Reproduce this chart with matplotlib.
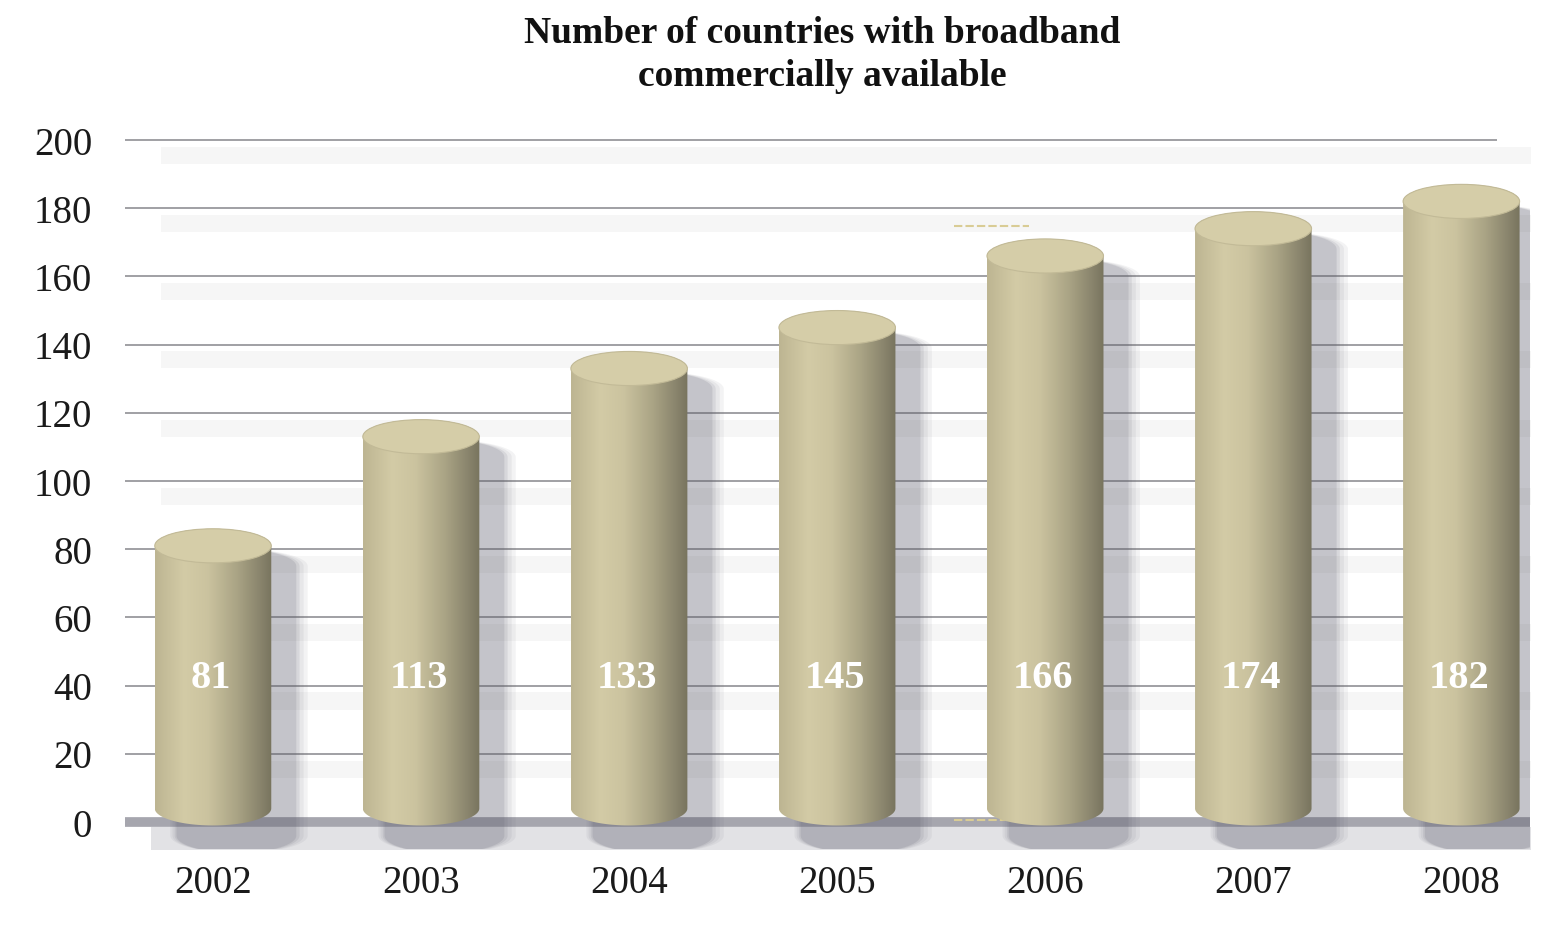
import numpy as np
from matplotlib import pyplot as plt
from matplotlib.colors import LinearSegmentedColormap
from matplotlib.patches import Ellipse, PathPatch
from matplotlib.path import Path

plt.rcParams.update({
    'font.family': 'Liberation Serif',
    'font.size': 28,
})

years = ['2002', '2003', '2004', '2005', '2006', '2007', '2008']
countries = [81, 113, 133, 145, 166, 174, 182]
y_ticks = [0, 20, 40, 60, 80, 100, 120, 140, 160, 180, 200]

title = 'Number of countries with broadband\ncommercially available'

# cylinder geometry (x in bar slots, y in data units)
half_w = 0.28
ell_h = 10.0
base = 4.0

body_cmap = LinearSegmentedColormap.from_list('body', [
    (0.00, '#bdb592'),
    (0.25, '#d3cba6'),
    (0.45, '#cbc39f'),
    (0.70, '#aaa485'),
    (0.92, '#86816a'),
    (1.00, '#78745e'),
])


def cylinder_path(x0, top, bottom, hw, eh, dx=0.0, dy=0.0):
    t = np.linspace(0, np.pi, 60)
    top_x = x0 - hw * np.cos(t)
    top_y = top + (eh / 2) * np.sin(t)
    bot_x = x0 + hw * np.cos(t)
    bot_y = bottom - (eh / 2) * np.sin(t)
    xs = np.concatenate([top_x, bot_x]) + dx
    ys = np.concatenate([top_y, bot_y]) + dy
    verts = np.column_stack([xs, ys])
    verts = np.vstack([verts, verts[:1]])
    return Path(verts, closed=True)


fig = plt.figure(figsize=(15.45, 9.25), dpi=100)
ax = fig.add_axes([125 / 1545, 0.0818, 1405 / 1545, 0.8037])
ax.set_xlim(-0.423, 6.33)
ax.set_ylim(-8, 210)
ax.axis('off')

# faint haze under the gridlines
for g in y_ticks[1:]:
    ax.fill_between([-0.25, 6.45], g - 7, g - 2, color='#f6f6f6', lw=0, zorder=0)

# gridlines and base line
ax.hlines(y_ticks[1:], -0.423, 6.17, colors='#a0a0a4', lw=1.4, zorder=1)
ax.fill_between([-0.3, 6.75], -8.5, -1.5, color='#e2e2e5', lw=0, zorder=1)
ax.hlines(0, -0.44, 6.33, colors='#a6a6ae', lw=7, zorder=2)

# y tick labels
for g in y_ticks:
    ax.text(-0.58, g - 1.5, str(g), ha='right', va='center', fontsize=28,
            color='#1a1a1a', clip_on=False)

gradient = np.linspace(0, 1, 256).reshape(1, -1)

for i, (yr, v) in enumerate(zip(years, countries)):
    # soft shadow, offset down and right
    for grow, a in [(0.05, 0.07), (0.035, 0.08), (0.02, 0.11), (0.008, 0.15)]:
        sp = cylinder_path(i, v - 6, -4, half_w + grow, ell_h, dx=0.11 + grow * 0.3)
        ax.add_patch(PathPatch(sp, facecolor='#5c5c6a', edgecolor='none',
                               alpha=a, zorder=3))

    # shaded body
    body = cylinder_path(i, v, base, half_w, ell_h)
    im = ax.imshow(gradient, cmap=body_cmap, aspect='auto',
                   extent=[i - half_w, i + half_w, base - ell_h, v + ell_h], zorder=4)
    im.set_clip_path(PathPatch(body, transform=ax.transData))

    # top cap
    ax.add_patch(Ellipse((i, v), 2 * half_w, ell_h, facecolor='#d5cda8',
                         edgecolor='#c2ba97', lw=0.8, zorder=5))

    ax.text(i - 0.01, 42, str(v), ha='center', va='center', fontsize=29,
            fontweight='bold', color='white', zorder=6)
    ax.text(i, -18, yr, ha='center', va='center', fontsize=28,
            color='#1a1a1a', clip_on=False)

# small dashed marks near the 2006 column
ax.hlines([174.8, 0.6], 3.56, 3.92, colors='#d9cc95', lw=1.5,
          linestyles=(0, (4, 1.5)), zorder=2)

fig.text(0.532, 0.983, title, ha='center', va='top', fontsize=27,
         fontweight='bold', color='#111111', linespacing=1.3)

plt.savefig('out.png', dpi=100)
